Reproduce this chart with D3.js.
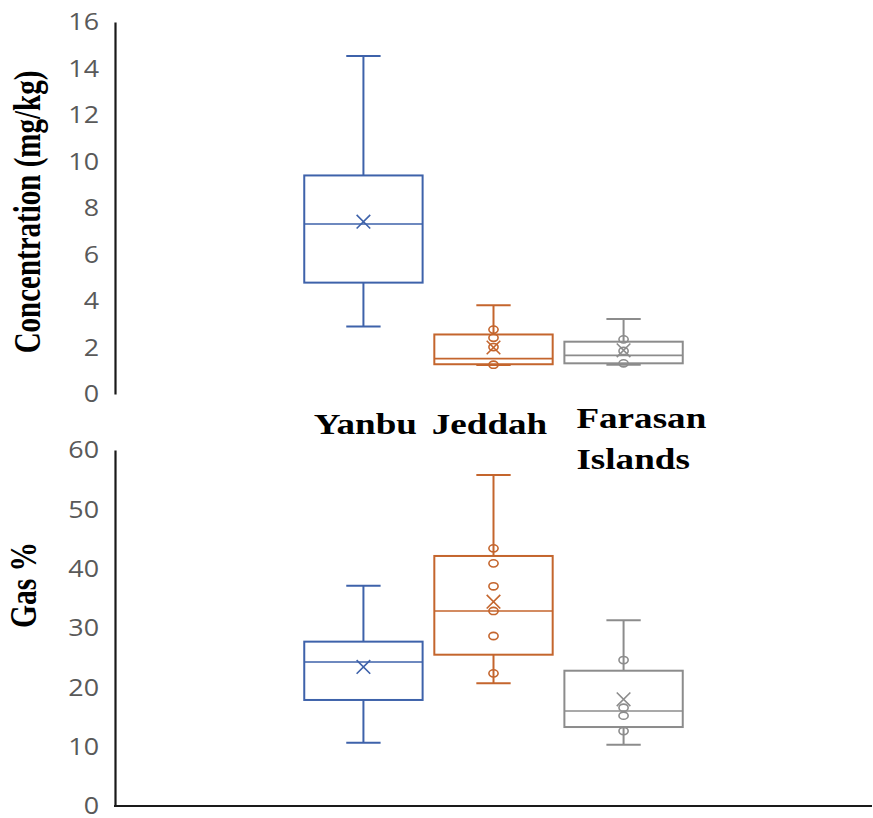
<!DOCTYPE html>
<html>
<head>
<meta charset="utf-8">
<script src="https://cdn.jsdelivr.net/npm/d3@7"></script>
<style>
  html, body { margin: 0; padding: 0; background: #fff; }
  svg { display: block; }
</style>
</head>
<body>
<svg id="chart" width="873" height="818"></svg>
<script>
// Sampling sites
const sites = ["Yanbu", "Jeddah", "Farasan Islands"];
const siteColors = ["#3E62AA", "#C4652D", "#8C8C8C"];

// Concentration (mg/kg): five-number summaries, means and inner points
const concMin    = [2.90, 1.25, 1.26];
const concQ1     = [4.79, 1.28, 1.32];
const concMedian = [7.31, 1.52, 1.66];
const concQ3     = [9.40, 2.56, 2.25];
const concMax    = [14.54, 3.82, 3.23];
const concMean   = [7.41, 2.00, 1.88];
const concPoints = [[], [1.26, 2.02, 2.42, 2.77], [1.32, 1.85, 2.35]];
const concTicks  = [0, 2, 4, 6, 8, 10, 12, 14, 16];

// Gas %: five-number summaries, means and inner points
const gasMin    = [10.67, 20.68, 10.33];
const gasQ1     = [17.87, 25.50, 13.31];
const gasMedian = [24.27, 32.87, 16.01];
const gasQ3     = [27.70, 42.14, 22.80];
const gasMax    = [37.13, 55.79, 31.29];
const gasMean   = [23.43, 34.44, 17.98];
const gasPoints = [[], [22.36, 28.65, 32.87, 37.03, 40.90, 43.43], [12.64, 15.22, 16.57, 24.60]];
const gasTicks  = [0, 10, 20, 30, 40, 50, 60];

const svg = d3.select("#chart");
const plotLeft = 115, plotRight = 872;
const groupWidth = (plotRight - plotLeft) / 2;
const stretch = 1.28;      // horizontal widening applied to serif titles
const tickStretch = 1.12;  // horizontal widening applied to tick numerals

const x = d3.scaleBand()
  .domain(sites)
  .range([plotLeft + groupWidth / 2, plotRight - groupWidth / 2])
  .paddingInner(0.09);

function drawPanel(cfg) {
  const g = svg.append("g");
  const y = d3.scaleLinear().domain([0, cfg.max]).range([cfg.bottom, cfg.top]);

  // Y axis
  const ax = g.append("g")
    .attr("transform", `translate(${plotLeft},0)`)
    .call(d3.axisLeft(y).tickValues(cfg.ticks).tickSize(0).tickSizeOuter(0).tickPadding(16));
  ax.select(".domain").attr("stroke", "#1a1a1a").attr("stroke-width", 2.2);
  ax.selectAll(".tick text")
    .attr("fill", "#595959")
    .attr("font-family", "'Open Sans', sans-serif")
    .attr("font-size", 24)
    .attr("x", -16 / tickStretch)
    .attr("transform", `scale(${tickStretch},1)`);

  if (cfg.xAxis) {
    g.append("line")
      .attr("x1", plotLeft - 1).attr("x2", plotRight)
      .attr("y1", y(0)).attr("y2", y(0))
      .attr("stroke", "#1a1a1a").attr("stroke-width", 2.2);
  }

  // Y axis title
  g.append("text")
    .attr("transform", `translate(${cfg.titleX},${cfg.titleY}) scale(${stretch},1) rotate(-90)`)
    .attr("text-anchor", "middle")
    .attr("font-family", "'Liberation Serif', 'Times New Roman', serif")
    .attr("font-weight", "bold")
    .attr("font-size", cfg.titleSize)
    .attr("fill", "#000")
    .text(cfg.title);

  sites.forEach((s, i) => {
    const col = siteColors[i];
    const bw = x.bandwidth();
    const x0 = x(s), cx = x0 + bw / 2;
    const capW = bw * 0.29;
    const b = g.append("g").attr("stroke", col).attr("fill", "none");

    // whiskers
    b.append("line").attr("x1", cx).attr("x2", cx)
      .attr("y1", y(cfg.max_[i])).attr("y2", y(cfg.q3[i])).attr("stroke-width", 2);
    b.append("line").attr("x1", cx).attr("x2", cx)
      .attr("y1", y(cfg.q1[i])).attr("y2", y(cfg.min[i])).attr("stroke-width", 2);
    [cfg.max_[i], cfg.min[i]].forEach(v => {
      b.append("line").attr("x1", cx - capW / 2).attr("x2", cx + capW / 2)
        .attr("y1", y(v)).attr("y2", y(v)).attr("stroke-width", 2);
    });

    // box
    b.append("rect")
      .attr("x", x0).attr("width", bw)
      .attr("y", y(cfg.q3[i])).attr("height", y(cfg.q1[i]) - y(cfg.q3[i]))
      .attr("fill", "#fff").attr("stroke-width", 2);
    // median
    b.append("line").attr("x1", x0).attr("x2", x0 + bw)
      .attr("y1", y(cfg.median[i])).attr("y2", y(cfg.median[i])).attr("stroke-width", 1.6);

    // inner points
    cfg.points[i].forEach(v => {
      b.append("ellipse").attr("cx", cx).attr("cy", y(v))
        .attr("rx", 4.6).attr("ry", 3.6).attr("stroke-width", 1.6);
    });

    // mean marker
    const my = y(cfg.mean[i]), h = 6.8;
    b.append("path")
      .attr("d", `M${cx - h},${my - h}L${cx + h},${my + h}M${cx - h},${my + h}L${cx + h},${my - h}`)
      .attr("stroke-width", 1.6);
  });
}

drawPanel({
  max: 16, top: 22, bottom: 394, ticks: concTicks, xAxis: false,
  title: "Concentration (mg/kg)", titleX: 40, titleY: 212, titleSize: 29,
  min: concMin, q1: concQ1, median: concMedian, q3: concQ3, max_: concMax,
  mean: concMean, points: concPoints
});

drawPanel({
  max: 60, top: 450, bottom: 806, ticks: gasTicks, xAxis: true,
  title: "Gas %", titleX: 36, titleY: 585, titleSize: 29.5,
  min: gasMin, q1: gasQ1, median: gasMedian, q3: gasQ3, max_: gasMax,
  mean: gasMean, points: gasPoints
});

// Site names between the two panels; the two-line name is left-aligned
const labelLines = sites.map(s => s === "Farasan Islands" ? ["Farasan", "Islands"] : [s]);
const labelAnchor = ["middle", "middle", "start"];
const labelShift = [2, -4, 12];
const labelBase = [434, 434, 428];
sites.forEach((s, i) => {
  const bx = labelAnchor[i] === "start" ? x(s) : x(s) + x.bandwidth() / 2;
  const lx = bx + labelShift[i];
  labelLines[i].forEach((line, k) => {
    svg.append("text")
      .attr("transform", `translate(${lx},${labelBase[i] + k * 41}) scale(${stretch},1)`)
      .attr("text-anchor", labelAnchor[i])
      .attr("font-family", "'Liberation Serif', 'Times New Roman', serif")
      .attr("font-weight", "bold")
      .attr("font-size", 29)
      .attr("fill", "#000")
      .text(line);
  });
});
</script>
</body>
</html>
